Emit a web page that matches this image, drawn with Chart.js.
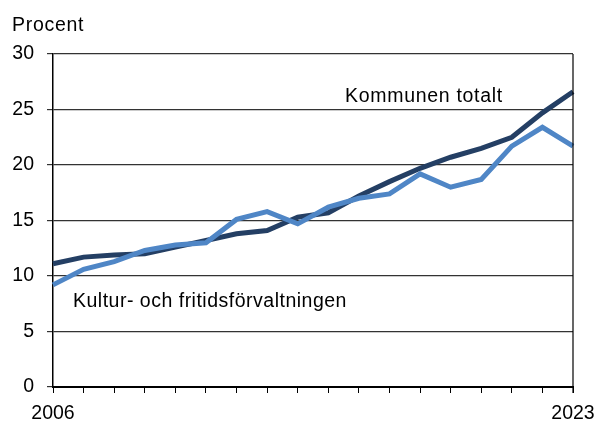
<!DOCTYPE html>
<html>
<head>
<meta charset="utf-8">
<script src="https://cdn.jsdelivr.net/npm/chart.js@4/dist/chart.umd.min.js"></script>
<style>
html,body{margin:0;padding:0;background:#fff;}
#wrap{width:595px;height:421px;}
</style>
</head>
<body>
<div id="wrap"><canvas id="c" width="595" height="421"></canvas></div>
<script>
const years = ["2006","2007","2008","2009","2010","2011","2012","2013","2014","2015","2016","2017","2018","2019","2020","2021","2022","2023"];
const kommunenTotalt = [11.1,11.7,11.9,12.0,12.6,13.2,13.8,14.1,15.3,15.7,17.2,18.5,19.7,20.7,21.5,22.5,24.7,26.6];
const kulturFritid = [9.2,10.6,11.3,12.3,12.8,13.0,15.1,15.8,14.7,16.2,17.0,17.4,19.2,18.0,18.7,21.7,23.4,21.7];
const yTicks = [0,5,10,15,20,25,30];
const seriesNames = ["Kommunen totalt","Kultur- och fritidsförvaltningen"];
const yTitle = "Procent";

const FONT = "'Liberation Sans', Arial, sans-serif";
const FS = 19.5;

const textPlugin = {
  id: 'texts',
  afterDraw(chart) {
    const ctx = chart.ctx;
    const a = chart.chartArea;
    ctx.save();
    ctx.strokeStyle = '#000';
    ctx.lineWidth = 1.2;
    ctx.beginPath();
    ctx.moveTo(a.right, a.top);
    ctx.lineTo(a.right, a.bottom + 6);
    ctx.stroke();
    ctx.fillStyle = '#000';
    ctx.font = FS + 'px ' + FONT;
    ctx.textBaseline = 'alphabetic';
    ctx.textAlign = 'left';
    ctx.letterSpacing = '0.7px';
    ctx.fillText(yTitle, 12, 31);
    ctx.fillText(seriesNames[0], 345, 101.5);
    ctx.letterSpacing = '0.5px';
    ctx.fillText(seriesNames[1], 73, 306.5);
    ctx.restore();
  }
};

new Chart(document.getElementById('c'), {
  type: 'line',
  data: {
    labels: years,
    datasets: [
      { label: seriesNames[1], data: kulturFritid, borderColor: '#4F86C6', borderWidth: 5, pointRadius: 0, tension: 0, fill: false },
      { label: seriesNames[0], data: kommunenTotalt, borderColor: '#243F64', borderWidth: 5, pointRadius: 0, tension: 0, fill: false }
    ]
  },
  options: {
    responsive: false,
    animation: false,
    devicePixelRatio: 1,
    layout: { padding: { left: 0, right: 22, top: 54, bottom: 0 } },
    plugins: { legend: { display: false }, tooltip: { enabled: false } },
    scales: {
      x: {
        type: 'category',
        offset: false,
        grid: { display: true, drawOnChartArea: false, drawTicks: true, tickLength: 6, color: '#000', lineWidth: 1 },
        border: { display: true, color: '#000', width: 2 },
        ticks: {
          autoSkip: false, maxRotation: 0, padding: 9, color: '#000',
          font: { family: FONT, size: FS },
          callback: function(v, i) { return (i === 0 || i === years.length - 1) ? years[i] : ''; }
        },
        afterFit(s) { s.height = 34; s.paddingLeft = 0; s.paddingRight = 0; }
      },
      y: {
        min: 0, max: 30,
        afterBuildTicks(s) { s.ticks = yTicks.map(v => ({ value: v })); },
        grid: { color: '#333', lineWidth: 1.2, drawTicks: true, tickLength: 6 },
        border: { display: true, color: '#000', width: 1.5 },
        ticks: { padding: 13, color: '#000', font: { family: FONT, size: FS } },
        afterFit(s) { s.width = 53; s.paddingTop = 0; s.paddingBottom = 0; }
      }
    }
  },
  plugins: [textPlugin]
});
</script>
</body>
</html>
